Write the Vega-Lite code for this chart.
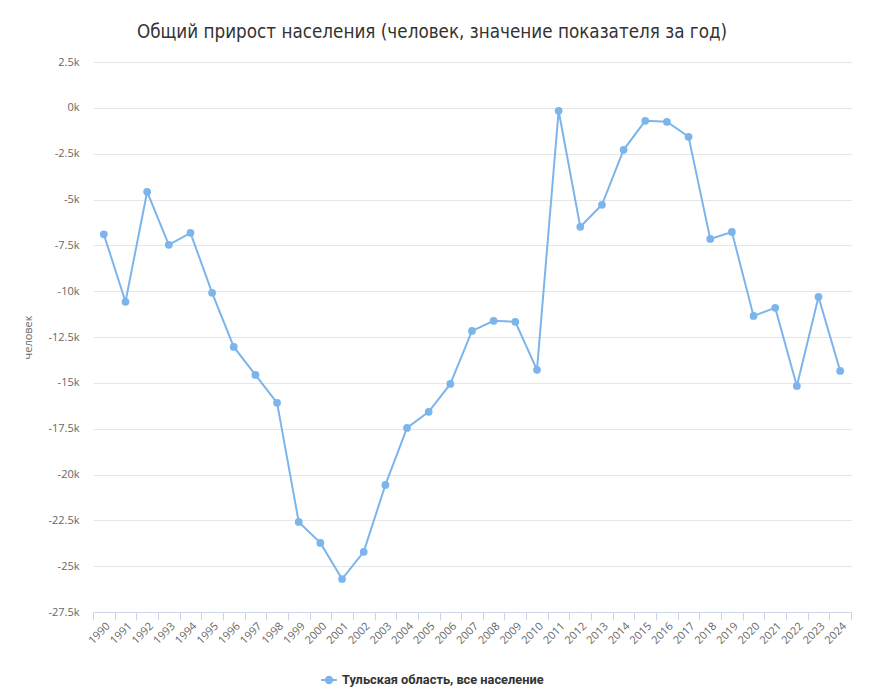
{
  "$schema": "https://vega.github.io/schema/vega-lite/v6.json",
  "width": 758,
  "height": 550,
  "autosize": "none",
  "padding": {"left": 93, "top": 62, "right": 24, "bottom": 85},
  "background": "white",
  "title": {
    "text": "Общий прирост населения (человек, значение показателя за год)",
    "font": "Liberation Sans Narrow, DejaVu Sans Condensed, sans-serif",
    "fontSize": 18.7,
    "fontWeight": "normal",
    "color": "#333333",
    "anchor": "middle",
    "dx": -40,
    "offset": 14
  },
  "config": {
    "view": {"stroke": null},
    "font": "Open Sans"
  },
  "data": {
    "values": [
      {"year": "1990", "value": -6900, "series": "Тульская область, все население"},
      {"year": "1991", "value": -10580, "series": "Тульская область, все население"},
      {"year": "1992", "value": -4580, "series": "Тульская область, все население"},
      {"year": "1993", "value": -7470, "series": "Тульская область, все население"},
      {"year": "1994", "value": -6820, "series": "Тульская область, все население"},
      {"year": "1995", "value": -10090, "series": "Тульская область, все население"},
      {"year": "1996", "value": -13040, "series": "Тульская область, все население"},
      {"year": "1997", "value": -14570, "series": "Тульская область, все население"},
      {"year": "1998", "value": -16090, "series": "Тульская область, все население"},
      {"year": "1999", "value": -22590, "series": "Тульская область, все население"},
      {"year": "2000", "value": -23730, "series": "Тульская область, все население"},
      {"year": "2001", "value": -25700, "series": "Тульская область, все население"},
      {"year": "2002", "value": -24220, "series": "Тульская область, все население"},
      {"year": "2003", "value": -20570, "series": "Тульская область, все население"},
      {"year": "2004", "value": -17460, "series": "Тульская область, все население"},
      {"year": "2005", "value": -16580, "series": "Тульская область, все население"},
      {"year": "2006", "value": -15060, "series": "Тульская область, все население"},
      {"year": "2007", "value": -12170, "series": "Тульская область, все население"},
      {"year": "2008", "value": -11620, "series": "Тульская область, все население"},
      {"year": "2009", "value": -11670, "series": "Тульская область, все население"},
      {"year": "2010", "value": -14290, "series": "Тульская область, все население"},
      {"year": "2011", "value": -160, "series": "Тульская область, все население"},
      {"year": "2012", "value": -6490, "series": "Тульская область, все население"},
      {"year": "2013", "value": -5290, "series": "Тульская область, все население"},
      {"year": "2014", "value": -2290, "series": "Тульская область, все население"},
      {"year": "2015", "value": -710, "series": "Тульская область, все население"},
      {"year": "2016", "value": -760, "series": "Тульская область, все население"},
      {"year": "2017", "value": -1580, "series": "Тульская область, все население"},
      {"year": "2018", "value": -7150, "series": "Тульская область, все население"},
      {"year": "2019", "value": -6770, "series": "Тульская область, все население"},
      {"year": "2020", "value": -11350, "series": "Тульская область, все население"},
      {"year": "2021", "value": -10910, "series": "Тульская область, все население"},
      {"year": "2022", "value": -15170, "series": "Тульская область, все население"},
      {"year": "2023", "value": -10310, "series": "Тульская область, все население"},
      {"year": "2024", "value": -14350, "series": "Тульская область, все население"}
    ]
  },
  "encoding": {
    "x": {
      "field": "year",
      "type": "ordinal",
      "bandPosition": 0.5,
      "scale": {"type": "band", "paddingInner": 0, "paddingOuter": 0},
      "axis": {
        "title": null,
        "tickBand": "extent",
        "tickExtra": true,
        "domainColor": "#ccd6eb",
        "tickColor": "#ccd6eb",
        "tickSize": 8,
        "labelAngle": -45,
        "labelAlign": "right",
        "labelBaseline": "top",
        "labelPadding": 0,
        "labelColor": "#666666",
        "labelFontSize": 11,
        "labelFont": "Open Sans",
        "grid": false
      }
    },
    "y": {
      "field": "value",
      "type": "quantitative",
      "scale": {"domain": [-27500, 2500], "nice": false, "zero": false},
      "axis": {
        "title": "человек",
        "titleFont": "Open Sans",
        "titleFontSize": 11,
        "titleFontWeight": "normal",
        "titleColor": "#666666",
        "titleX": -65,
        "titleY": 275,
        "titleAngle": -90,
        "titleAlign": "center",
        "titleBaseline": "middle",
        "values": [2500, 0, -2500, -5000, -7500, -10000, -12500, -15000, -17500, -20000, -22500, -25000, -27500],
        "labelExpr": "datum.value / 1000 + 'k'",
        "labelColor": "#666666",
        "labelFontSize": 11,
        "labelFont": "Open Sans",
        "labelPadding": 14,
        "domain": false,
        "ticks": false,
        "gridColor": "#e6e6e6",
        "gridWidth": 1
      }
    },
    "color": {
      "field": "series",
      "type": "nominal",
      "scale": {"range": ["#7cb5ec"]},
      "legend": {
        "title": null,
        "orient": "none",
        "legendX": 227,
        "legendY": 609,
        "symbolType": "M-1,0H1M-0.4,0A0.4,0.4 0 1,1 0.4,0A0.4,0.4 0 1,1 -0.4,0Z",
        "symbolSize": 250,
        "symbolStrokeWidth": 2,
        "symbolFillColor": "#7cb5ec",
        "symbolStrokeColor": "#7cb5ec",
        "labelFont": "Roboto",
        "labelFontSize": 12.8,
        "labelFontWeight": "bold",
        "labelColor": "#333333",
        "labelLimit": 400
      }
    }
  },
  "layer": [
    {"mark": {"type": "line", "strokeWidth": 2}},
    {"mark": {"type": "point", "filled": true, "size": 60, "opacity": 1}}
  ]
}
